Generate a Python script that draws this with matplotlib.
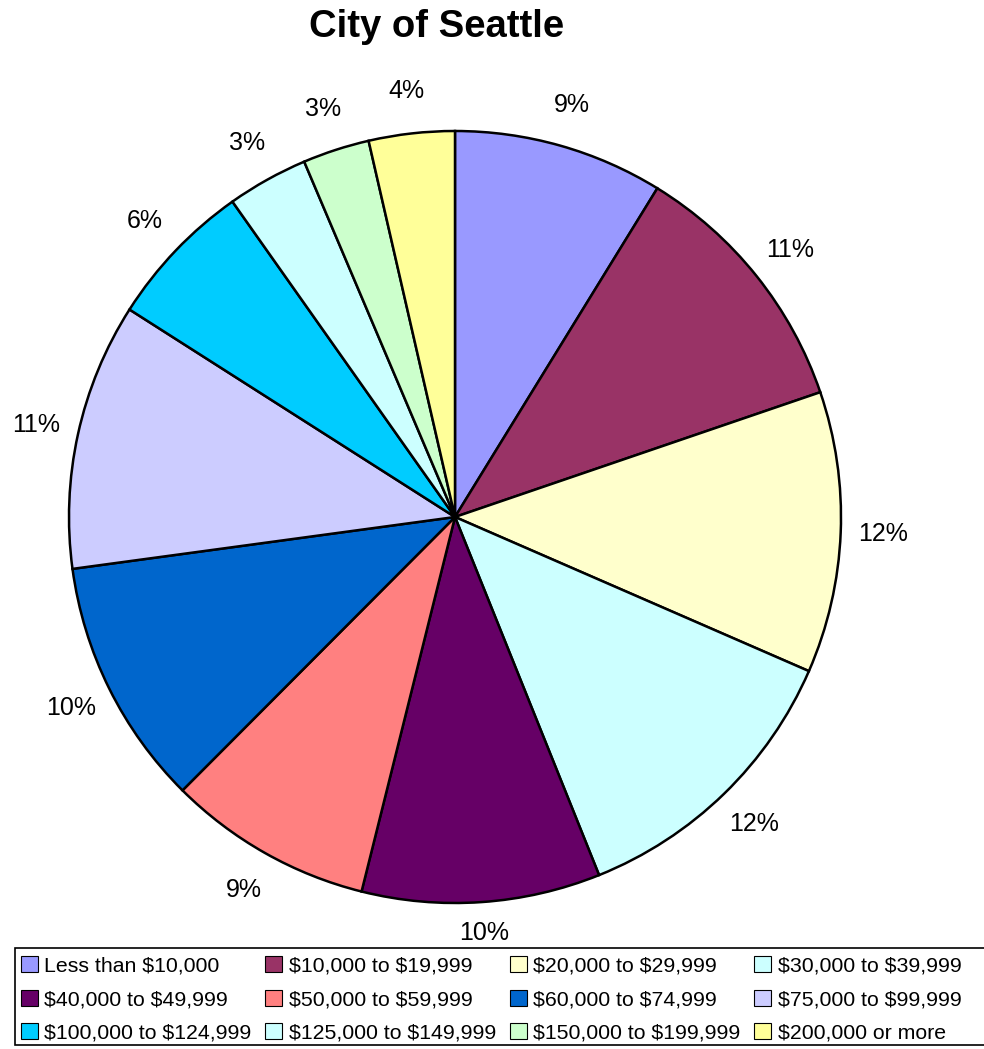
import matplotlib.pyplot as plt
from matplotlib.patches import Rectangle

plt.rcParams['font.family'] = ['Liberation Sans', 'DejaVu Sans']
plt.rcParams['text.parse_math'] = False

# Income brackets, City of Seattle (share of households, %)
categories = ['Less than $10,000', '$10,000 to $19,999', '$20,000 to $29,999',
              '$30,000 to $39,999', '$40,000 to $49,999', '$50,000 to $59,999',
              '$60,000 to $74,999', '$75,000 to $99,999', '$100,000 to $124,999',
              '$125,000 to $149,999', '$150,000 to $199,999', '$200,000 or more']
values = [8.8, 11.0, 11.8, 12.4, 10.0, 8.6, 10.4, 11.2, 6.2, 3.4, 2.8, 3.6]
colors = ['#9999FF', '#993366', '#FFFFCC', '#CCFFFF', '#660066', '#FF8080',
          '#0066CC', '#CCCCFF', '#00CCFF', '#CCFFFF', '#CCFFCC', '#FFFF99']

W, H = 984, 1049
fig = plt.figure(figsize=(W / 100, H / 100), dpi=100)

# pie centre (455, 517) px, radius 386 px
cx, cy, r = 455, 517, 386
ax = fig.add_axes([(cx - r) / W, (H - cy - r) / H, 2 * r / W, 2 * r / H])
wedges, _, pcts = ax.pie(values, colors=colors, startangle=90, counterclock=False,
                         autopct='%1.0f%%', pctdistance=1.11,
                         wedgeprops=dict(edgecolor='black', linewidth=1.8),
                         textprops=dict(fontsize=18))
# bottom label sits a bit closer to the pie (clear of the legend)
x, y = pcts[4].get_position()
pcts[4].set_position((x * 1.08 / 1.11, y * 1.08 / 1.11))
ax.set_xlim(-1, 1)
ax.set_ylim(-1, 1)
ax.axis('off')

fig.text(437 / W, 1 - 27 / H, 'City of Seattle', ha='center', va='center',
         fontsize=27.5, fontweight='bold')

# legend box runs off the right edge like the original
fig.patches.append(Rectangle((15 / W, 4 / H), 1.0, 97 / H, transform=fig.transFigure,
                             facecolor='white', edgecolor='black', linewidth=1.2))

# legend, filled row by row
handles = [Rectangle((0, 0), 1, 1, facecolor=c, edgecolor='black', linewidth=0.8)
           for c in colors]
order = [0, 4, 8, 1, 5, 9, 2, 6, 10, 3, 7, 11]
leg = fig.legend([handles[i] for i in order], [categories[i] for i in order],
                 ncol=4, loc='upper left', bbox_to_anchor=(21 / W, 1 - 956 / H),
                 fontsize=15.3, handlelength=0.8, handleheight=0.8,
                 handletextpad=0.3, columnspacing=0.65, labelspacing=0.66,
                 borderpad=0.0, borderaxespad=0, frameon=False)

fig.savefig('out.png', dpi=100)
